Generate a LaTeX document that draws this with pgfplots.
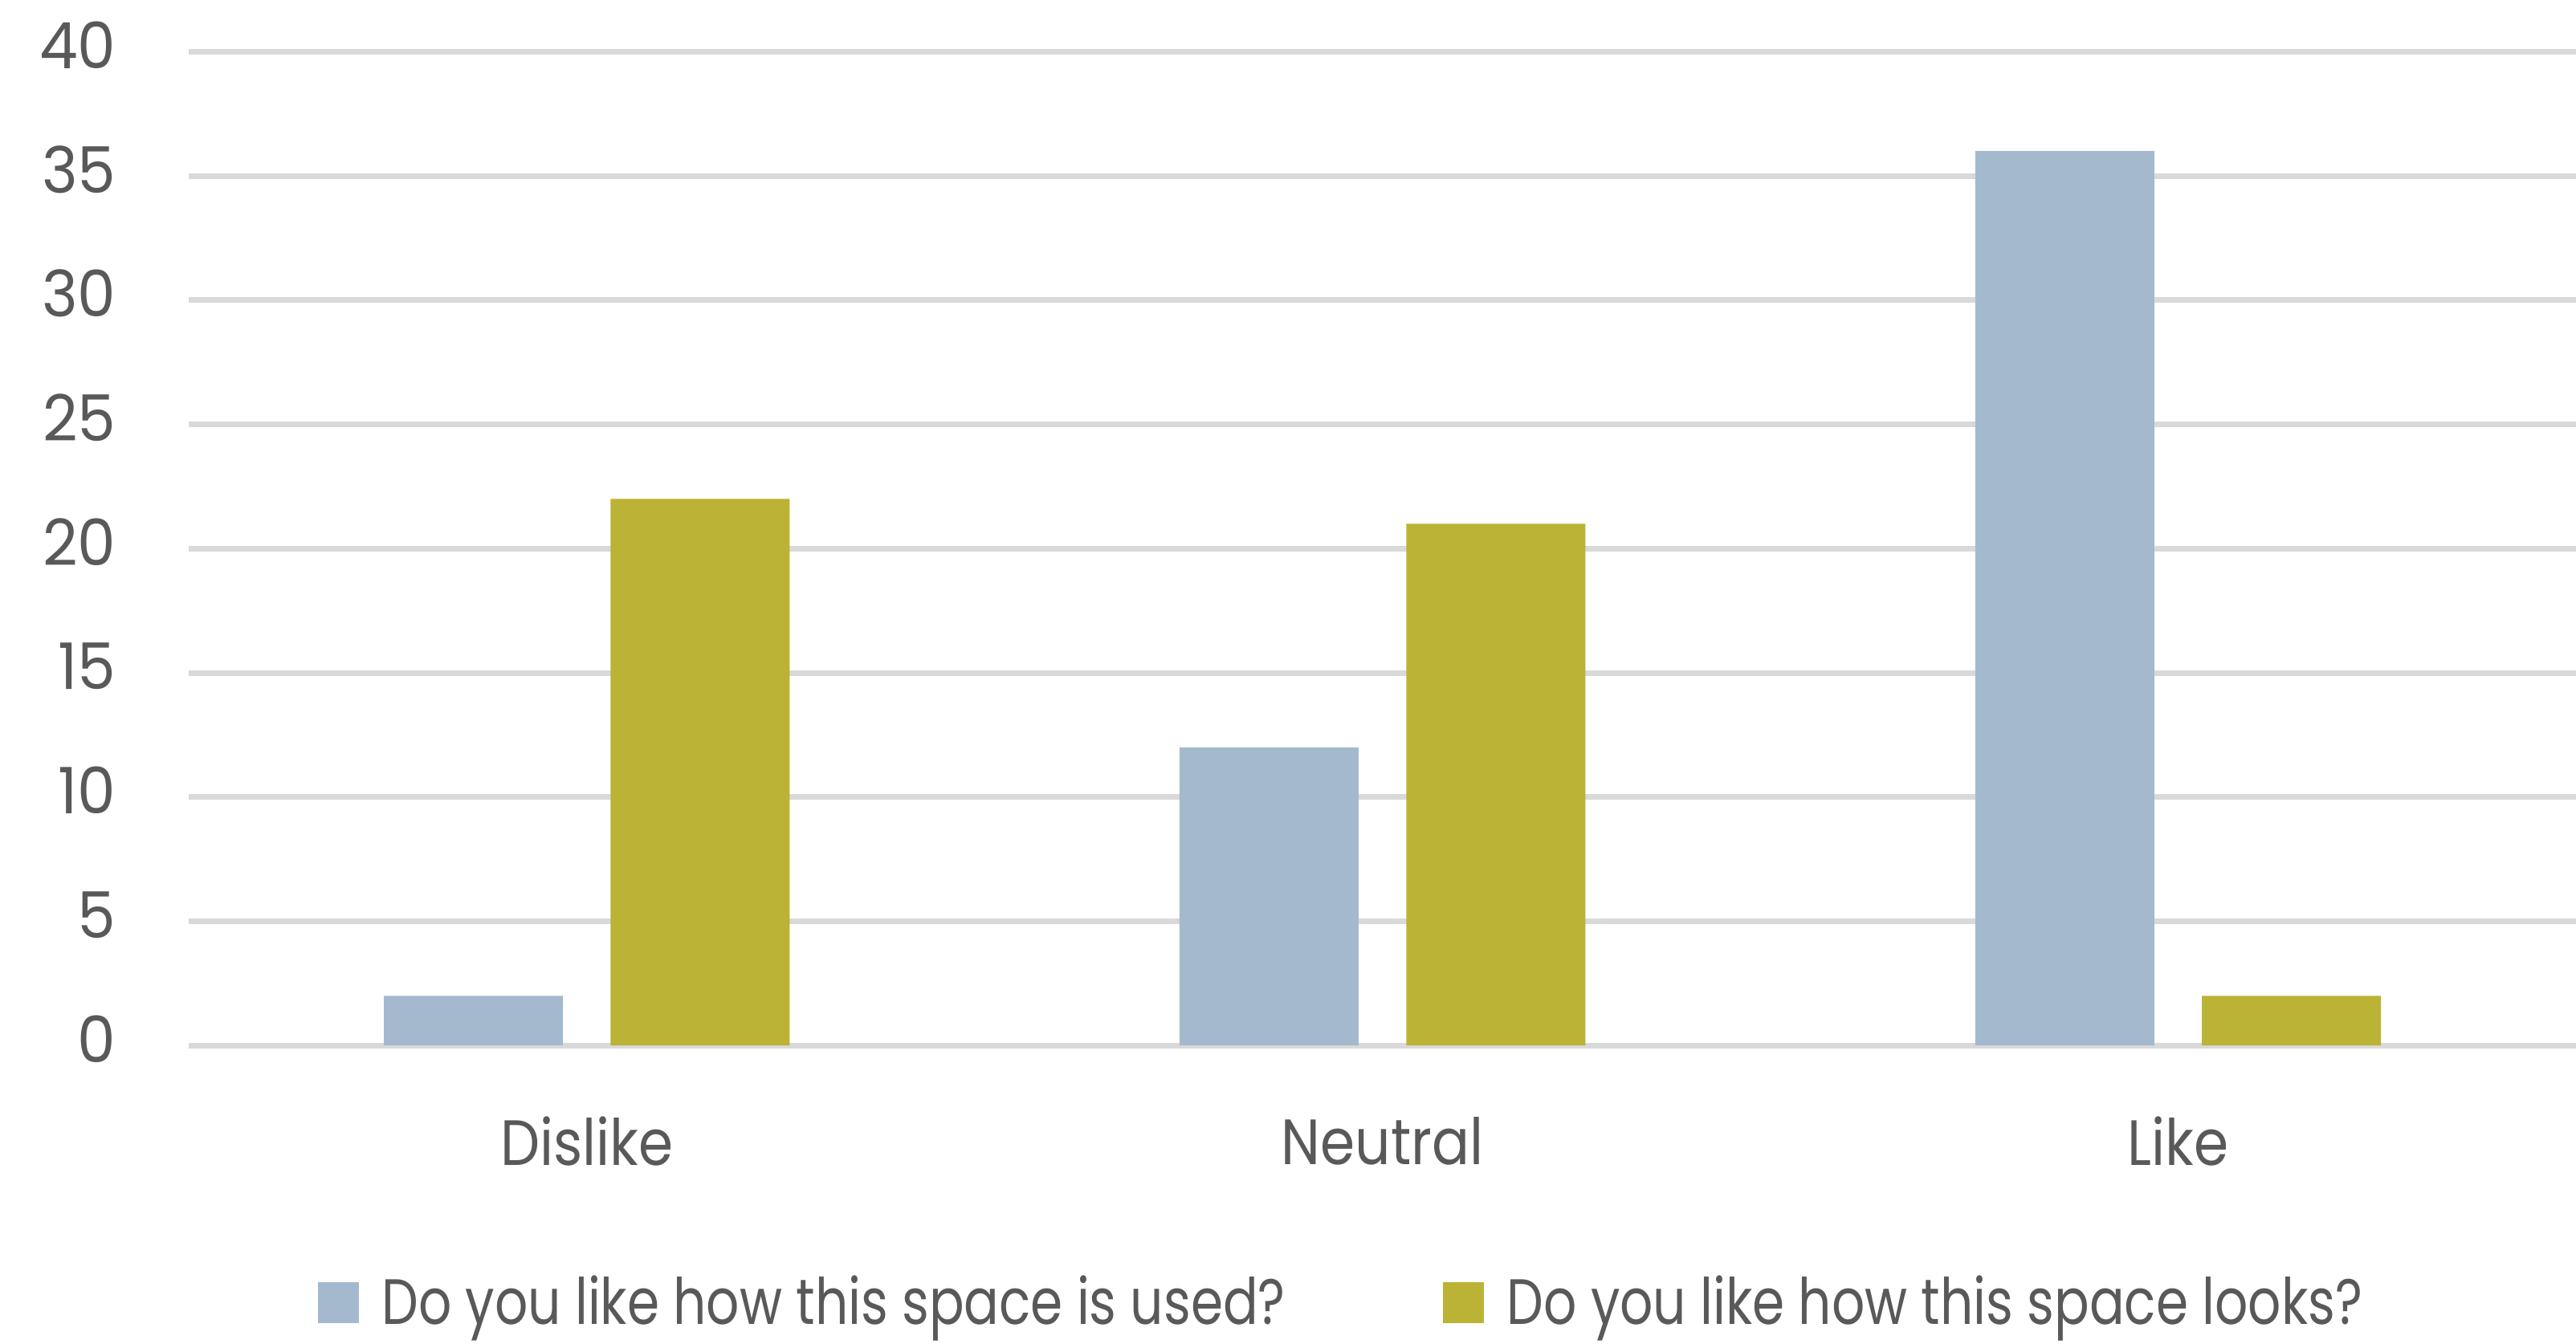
\documentclass[border=0pt]{standalone}
\usepackage{pgfplots}
\pgfplotsset{compat=1.18}
\usetikzlibrary{calc}
\usepackage{fontspec}
\setmainfont[FakeStretch=0.81]{Poppins}
\newfontfamily\numfont[FakeStretch=0.95]{Poppins}
\definecolor{txt}{HTML}{595959}
\definecolor{grd}{HTML}{D9D9D9}
\definecolor{cblue}{HTML}{A4B9CE}
\definecolor{colive}{HTML}{BBB335}
\begin{document}
\begin{tikzpicture}
\begin{axis}[
  name=ax,
  at={(0,0)}, anchor=south west,
  scale only axis,
  width=726.5pt, height=302.5pt,
  xmin=-0.5, xmax=2.5,
  ymin=0, ymax=40,
  ytick={0,5,...,40},
  xtick={0,1,2},
  xticklabels={Dislike,Neutral,Like},
  axis line style={draw=none},
  major tick length=0pt,
  ymajorgrids,
  grid style={grd, line width=1.7pt},
  font=\fontsize{19.5}{22}\selectfont,
  /pgf/number format/assume math mode=true,
  yticklabel style={anchor=east, inner sep=0pt, xshift=-22pt, yshift=2pt, text=txt, font=\fontsize{19.5}{22}\numfont},
  xticklabel style={anchor=north, inner sep=0pt, yshift=-21.5pt, text=txt, font=\fontsize{19.5}{22}\selectfont\addfontfeature{FakeStretch=0.87}},
  ybar, bar width=54.5pt,
  legend columns=2,
  legend style={at={(0.0537,-0.2587)}, anchor=west, draw=none, fill=none,
    inner sep=0pt, nodes={inner sep=0pt, text=txt}, font=\fontsize{19.5}{22}\selectfont},
  legend image code/.code={\fill[#1, draw=none] (0pt,-6.25pt) rectangle (12.5pt,6.25pt); \path (19.5pt,0pt);},
]
\addplot[fill=cblue, draw=none, bar shift=-34.5pt] coordinates {(0,2) (1,12) (2,36)};
\addplot[fill=colive, draw=none, bar shift=34.5pt] coordinates {(0,22) (1,21) (2,2)};
\legend{Do you like how this space is used?\hspace*{48pt}, Do you like how this space looks?}
\end{axis}
\pgfresetboundingbox
\path ($(ax.south west)+(-57.5pt,-90.75pt)$) rectangle ($(ax.north east)+(0,15.75pt)$);
\end{tikzpicture}
\end{document}
